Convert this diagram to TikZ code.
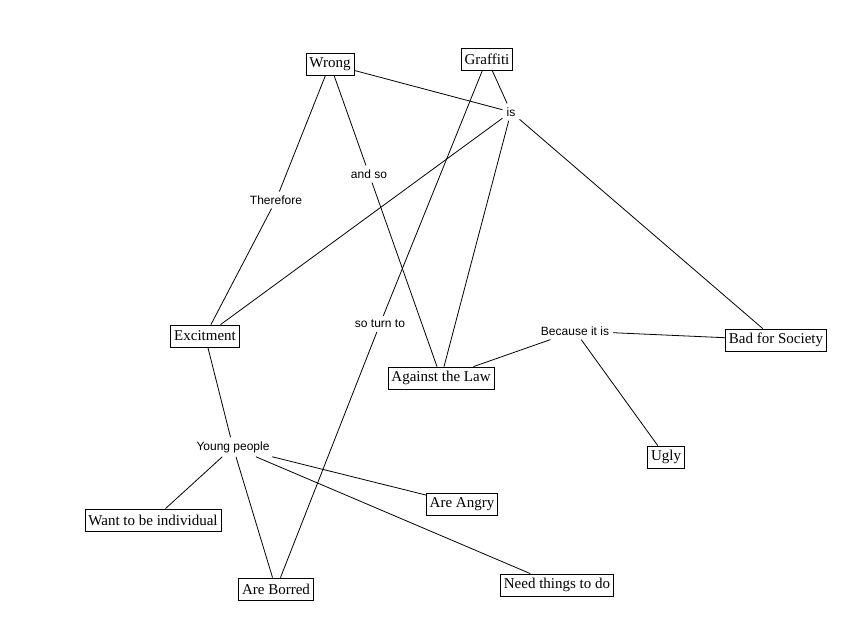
\documentclass[tikz,border=0pt]{standalone}
\usepackage{fontspec}
\setmainfont{Liberation Serif}
\newfontfamily\lblfont{Liberation Sans}
\begin{document}
\begin{tikzpicture}[x=1pt,y=-1pt,
  concept/.style={draw,line width=0.8pt,font=\fontsize{15}{17}\selectfont,inner xsep=3.5pt,inner ysep=2pt,minimum height=22pt},
  link/.style={font=\lblfont\fontsize{12}{14}\selectfont,inner sep=4pt},
  conn/.style={line width=0.8pt}]
\useasboundingbox (0,0) rectangle (868,640);
\node[concept] (wrong) at (330,64) {Wrong};
\node[concept] (graffiti) at (487,59) {Graffiti};
\node[link] (is) at (511,112) {is};
\node[link] (andso) at (369,174) {and so};
\node[link] (therefore) at (276,200) {Therefore};
\node[concept] (excit) at (205,336) {Excitment};
\node[link] (soturn) at (380,324) {so turn to};
\node[concept] (law) at (441,378) {Against the Law};
\node[link] (because) at (575,331) {Because it is};
\node[concept] (bad) at (776,340) {Bad for Society};
\node[concept] (ugly) at (666,457) {Ugly};
\node[link] (young) at (233,447) {Young people};
\node[concept] (indiv) at (153,520) {Want to be individual};
\node[concept] (angry) at (462,504) {Are Angry};
\node[concept] (borred) at (276,589) {Are Borred};
\node[concept] (need) at (557,585) {Need things to do};

\draw[conn] (wrong) -- (is);
\draw[conn] (graffiti) -- (is);
\draw[conn] (is) -- (excit);
\draw[conn] (is) -- (law);
\draw[conn] (is) -- (bad);
\draw[conn] (wrong) -- (therefore);
\draw[conn] (therefore) -- (excit);
\draw[conn] (wrong) -- (andso);
\draw[conn] (andso) -- (law);
\draw[conn] (graffiti) -- (soturn);
\draw[conn] (soturn) -- (borred);
\draw[conn] (law) -- (because);
\draw[conn] (because) -- (bad);
\draw[conn] (because) -- (ugly);
\draw[conn] (excit) -- (young);
\draw[conn] (young) -- (indiv);
\draw[conn] (young) -- (borred);
\draw[conn] (young) -- (angry);
\draw[conn] (young) -- (need);
\end{tikzpicture}
\end{document}
